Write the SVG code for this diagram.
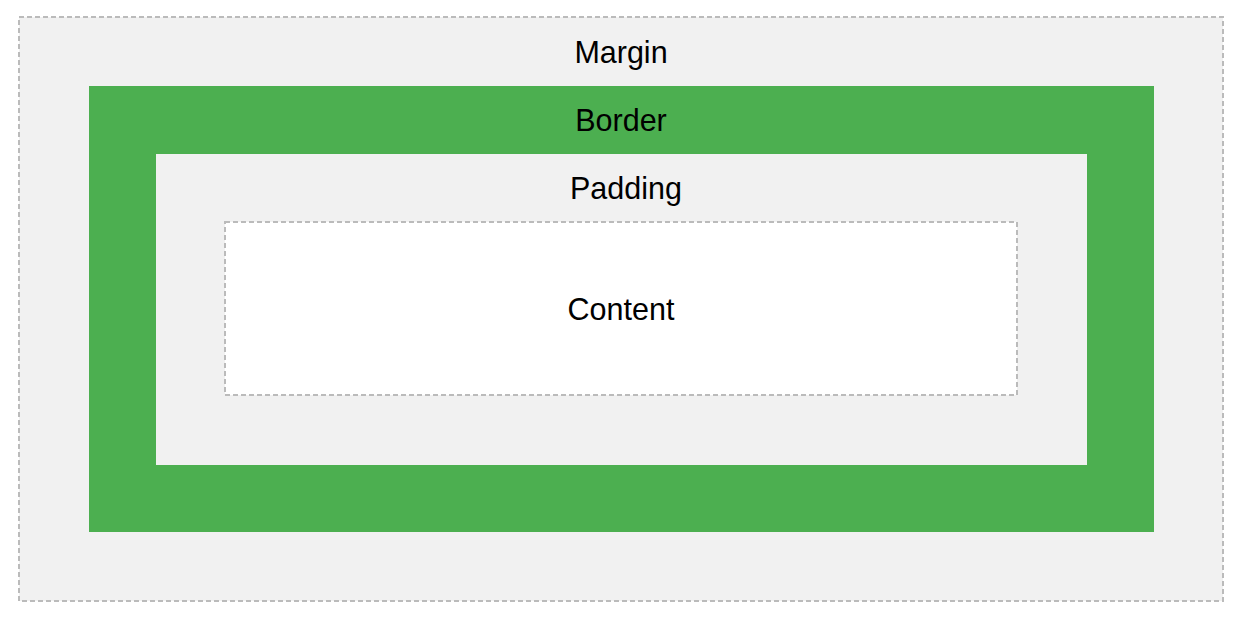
<svg xmlns="http://www.w3.org/2000/svg" width="1238" height="620" viewBox="0 0 1238 620">
<style>
.lbl{font-family:"Liberation Sans",Arial,sans-serif;font-size:30.5px;fill:#000;text-anchor:middle}
.dash{stroke:#bbbbbb;stroke-width:2;stroke-dasharray:5 3}
</style>
<rect width="1238" height="620" fill="#ffffff"/>
<g id="margin">
<rect x="19" y="17" width="1204" height="584" fill="#f1f1f1" class="dash"/>
<text class="lbl" x="621" y="63">Margin</text>
</g>
<g id="border">
<rect x="89" y="86" width="1065" height="446" fill="#4caf50"/>
<text class="lbl" x="621" y="131">Border</text>
</g>
<g id="padding">
<rect x="156" y="154" width="931" height="311" fill="#f1f1f1"/>
<text class="lbl" x="626" y="199">Padding</text>
</g>
<g id="content">
<rect x="225" y="222" width="792" height="173" fill="#ffffff" class="dash"/>
<text class="lbl" x="621" y="319.5">Content</text>
</g>
<g id="connectors"/>
</svg>
